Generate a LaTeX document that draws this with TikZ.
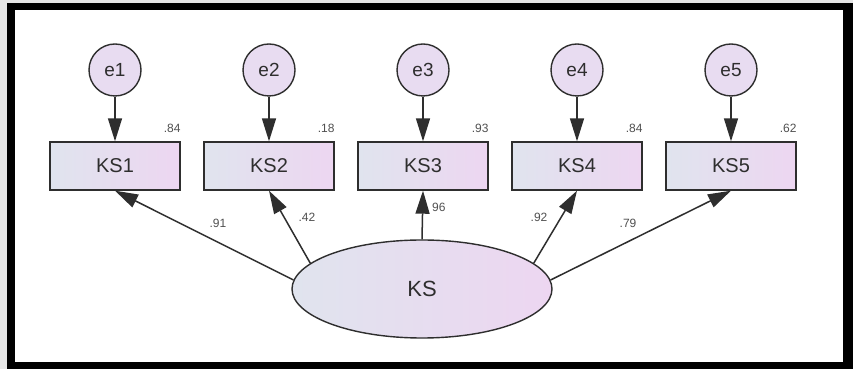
\documentclass[tikz,border=0pt]{standalone}
\usepackage{fontspec}
\setmainfont{Liberation Sans}
\usetikzlibrary{arrows.meta,shapes.geometric}

\definecolor{ink}{HTML}{2E2E2E}
\definecolor{estgray}{HTML}{505050}
\definecolor{shadeleft}{HTML}{E0E4EE}
\definecolor{shaderight}{HTML}{EDD6F1}
\definecolor{errfill}{HTML}{E8DCF1}
\definecolor{margin}{HTML}{E6E6E6}

\begin{document}
\begin{tikzpicture}[x=1pt,y=1pt,
  obs/.style={rectangle, draw=ink, line width=1.4pt, minimum width=130pt,
    minimum height=48pt, inner sep=0pt, left color=shadeleft,
    right color=shaderight, text=ink, font=\fontsize{20}{22}\selectfont},
  err/.style={circle, draw=ink, line width=1.4pt, minimum size=52pt,
    inner sep=0pt, fill=errfill, text=ink, font=\fontsize{19}{21}\selectfont},
  lat/.style={ellipse, draw=ink, line width=1.4pt, minimum width=260pt,
    minimum height=98pt, inner sep=0pt, left color=shadeleft,
    right color=shaderight, text=ink, font=\fontsize{22}{26}\selectfont},
  est/.style={inner sep=0pt, text=estgray, font=\fontsize{12}{14}\selectfont},
  conn/.style={draw=ink, line width=1.5pt,
    -{Triangle[length=23pt,width=14pt]}}
]
% page, margin and heavy black frame
\useasboundingbox (0,0) rectangle (853,369);
\fill[margin] (0,0) rectangle (853,369);
\fill[black] (7,0) rectangle (853,366);
\fill[white] (15,7) rectangle (843,359);

% error terms
\foreach \i/\x in {1/115,2/269,3/423,4/577,5/731}
  \node[err] (e\i) at (\x,299) {e\i};

% indicators
\foreach \i/\x in {1/115,2/269,3/423,4/577,5/731}
  \node[obs] (ks\i) at (\x,203) {KS\i};

% latent factor
\node[lat] (ks) at (422,80) {KS};

% squared multiple correlations
\node[est, anchor=base east] (r1) at ([yshift=9pt]ks1.north east) {.84};
\node[est, anchor=base east] (r2) at ([yshift=9pt]ks2.north east) {.18};
\node[est, anchor=base east] (r3) at ([yshift=9pt]ks3.north east) {.93};
\node[est, anchor=base east] (r4) at ([yshift=9pt]ks4.north east) {.84};
\node[est, anchor=base east] (r5) at ([yshift=9pt]ks5.north east) {.62};

% standardized loadings
\node[est] (l1) at (218,146) {.91};
\node[est] (l2) at (307,152) {.42};
\node[est, anchor=west] (l3) at (432,162) {96};
\node[est] (l4) at (539,152) {.92};
\node[est] (l5) at (628,146) {.79};

% error paths
\foreach \i in {1,...,5}
  \draw[conn] (e\i) -- (ks\i);

% factor loadings
\draw[conn] (ks.176) -- (ks1.south);
\draw[conn] (ks.167) -- (ks2.south);
\draw[conn] (ks.north) -- (ks3.south);
\draw[conn] (ks.13) -- (ks4.south);
\draw[conn] (ks.4) -- (ks5.south);
\end{tikzpicture}
\end{document}
